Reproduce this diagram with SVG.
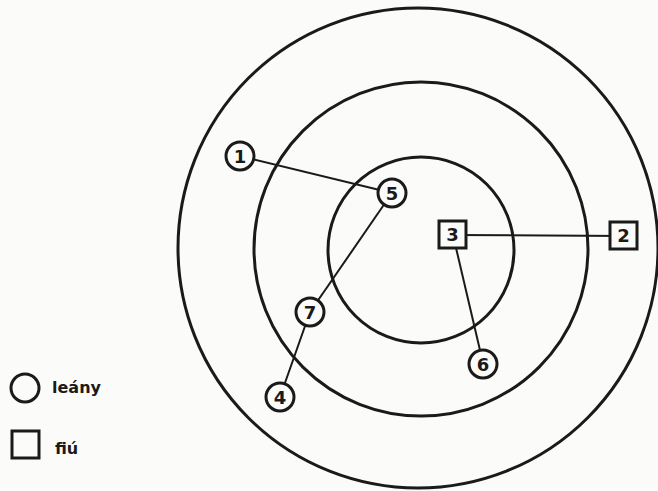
<svg xmlns="http://www.w3.org/2000/svg" width="658" height="491" viewBox="0 0 658 491">
<style>
.ring{fill:none;stroke:#1a1a1a;stroke-width:3}
.nd{fill:#fbfbf9;stroke:#1a1a1a;stroke-width:3}
.ln{stroke:#1a1a1a;stroke-width:2;fill:none}
.lb{font-family:"DejaVu Sans",sans-serif;font-weight:bold;font-size:18px;fill:#1a1a1a;text-anchor:middle;dominant-baseline:central}
.lg{font-family:"DejaVu Sans",sans-serif;font-weight:bold;font-size:16px;fill:#1a1a1a;dominant-baseline:central}
</style>
<rect width="658" height="491" fill="#fbfbf9"/>
<g id="rings">
<circle class="ring" cx="418" cy="248" r="240"/>
<circle class="ring" cx="421" cy="249" r="167"/>
<circle class="ring" cx="421" cy="250" r="93"/>
</g>
<g id="connectors">
<line class="ln" x1="240" y1="156" x2="392" y2="193"/>
<line class="ln" x1="392" y1="193" x2="310" y2="312"/>
<line class="ln" x1="310" y1="312" x2="280" y2="397"/>
<line class="ln" x1="453" y1="235" x2="624" y2="236"/>
<line class="ln" x1="453" y1="235" x2="483" y2="363"/>
</g>
<g id="n1"><circle class="nd" cx="240" cy="156" r="14"/><text class="lb" x="240" y="156">1</text></g>
<g id="n5"><circle class="nd" cx="392" cy="193" r="14"/><text class="lb" x="392" y="193">5</text></g>
<g id="n7"><circle class="nd" cx="310" cy="312" r="14"/><text class="lb" x="310" y="312">7</text></g>
<g id="n4"><circle class="nd" cx="280" cy="397" r="14"/><text class="lb" x="280" y="397">4</text></g>
<g id="n6"><circle class="nd" cx="483" cy="364" r="14"/><text class="lb" x="483" y="364">6</text></g>
<g id="n3"><rect class="nd" x="439" y="221" width="27" height="27"/><text class="lb" x="452.5" y="234.5">3</text></g>
<g id="n2"><rect class="nd" x="610" y="222" width="27" height="27"/><text class="lb" x="623.5" y="235.5">2</text></g>
<g id="legend">
<circle class="nd" cx="25" cy="388" r="14"/>
<text class="lg" x="52" y="387">leány</text>
<rect class="nd" x="12" y="431" width="27" height="27"/>
<text class="lg" x="55" y="448">fiú</text>
</g>
</svg>
